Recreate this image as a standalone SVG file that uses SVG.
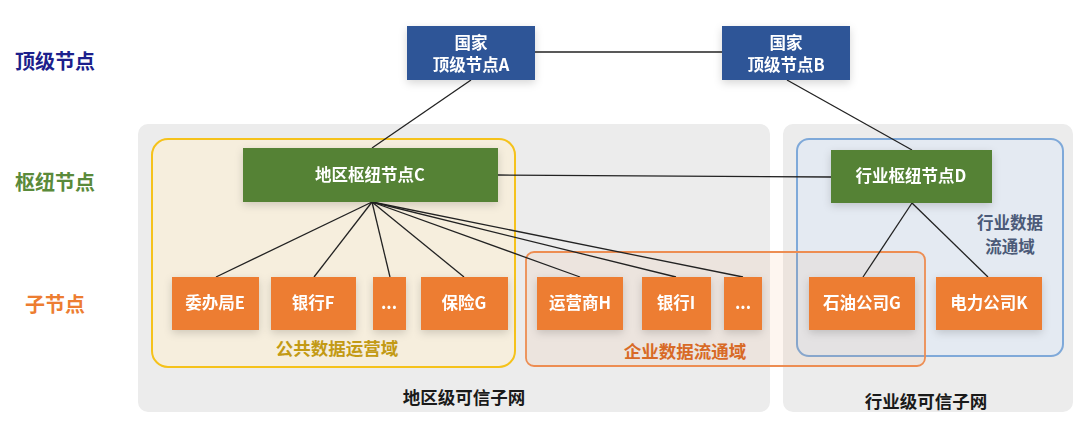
<svg xmlns="http://www.w3.org/2000/svg" width="1080" height="424" viewBox="0 0 1080 424">
<defs>
<filter id="sh" x="-20%" y="-20%" width="140%" height="160%">
<feDropShadow dx="0" dy="3" stdDeviation="4" flood-color="#000" flood-opacity="0.16"/>
</filter>
<style>
text{font-family:"Noto Sans CJK SC","Liberation Sans",sans-serif;font-weight:bold;text-anchor:middle}
.nt{fill:#fff;font-size:16.5px}
.top{fill:#2e5597}
.hub{fill:#548235}
.leaf{fill:#ed7d31}
.lvl{font-size:20px}
.conn line{stroke:#222;stroke-width:1.3}
.panel{fill:#ececec}
</style>
</defs>
<rect width="1080" height="424" fill="#fff"/>

<g id="panels">
<rect class="panel" x="138" y="124" width="632" height="288" rx="10"/>
<rect class="panel" x="783" y="124" width="290" height="288" rx="10"/>
<text x="464" y="404" font-size="17.5" fill="#1a1a1a">地区级可信子网</text>
<text x="926" y="408" font-size="17.5" fill="#1a1a1a">行业级可信子网</text>
</g>

<g id="domains">
<rect x="152" y="139" width="363" height="228" rx="16" fill="#f6eedd" stroke="#f5c21b" stroke-width="2"/>
<text x="337" y="355" font-size="17.5" fill="#c39a14">公共数据运营域</text>
<rect x="797" y="139" width="266" height="217" rx="12" fill="#e4eaf2" stroke="#7fa9d9" stroke-width="2"/>
<text x="1010" y="229" font-size="16.5" fill="#4b5a78">行业数据</text>
<text x="1010" y="253" font-size="16.5" fill="#4b5a78">流通域</text>
<rect x="526" y="252" width="399" height="114" rx="8" fill="#ed7d31" fill-opacity="0.07" stroke="#ed8d52" stroke-width="1.8"/>
<text x="685" y="358" font-size="17.5" fill="#d86a26">企业数据流通域</text>
</g>

<g id="levels">
<text class="lvl" x="55" y="69" fill="#1c1f8c">顶级节点</text>
<text class="lvl" x="55" y="190" fill="#5a8a3a">枢纽节点</text>
<text class="lvl" x="55" y="312" fill="#ed7d31">子节点</text>
</g>

<g id="connectors" class="conn">
<line x1="535" y1="52" x2="722" y2="52"/>
<line x1="471" y1="80" x2="372" y2="148"/>
<line x1="787" y1="80" x2="912" y2="150"/>
<line x1="498" y1="175" x2="831" y2="177"/>
<line x1="372" y1="202" x2="216" y2="277"/>
<line x1="372" y1="202" x2="314" y2="277"/>
<line x1="372" y1="202" x2="390" y2="277"/>
<line x1="372" y1="202" x2="464" y2="277"/>
<line x1="372" y1="202" x2="580" y2="277"/>
<line x1="372" y1="202" x2="676" y2="277"/>
<line x1="372" y1="202" x2="743" y2="277"/>
<line x1="912" y1="203" x2="863" y2="277"/>
<line x1="912" y1="203" x2="988" y2="277"/>
</g>

<g id="nodeA" filter="url(#sh)">
<rect class="top" x="407" y="26" width="128" height="54"/>
<text class="nt" x="471" y="49">国家</text>
<text class="nt" x="471" y="71">顶级节点A</text>
</g>
<g id="nodeB" filter="url(#sh)">
<rect class="top" x="722" y="26" width="128" height="54"/>
<text class="nt" x="786" y="49">国家</text>
<text class="nt" x="786" y="71">顶级节点B</text>
</g>
<g id="nodeC" filter="url(#sh)">
<rect class="hub" x="243" y="148" width="255" height="54"/>
<text class="nt" x="370" y="181">地区枢纽节点C</text>
</g>
<g id="nodeD" filter="url(#sh)">
<rect class="hub" x="831" y="150" width="161" height="53"/>
<text class="nt" x="911" y="182">行业枢纽节点D</text>
</g>
<g id="nodeE" filter="url(#sh)">
<rect class="leaf" x="172" y="277" width="87" height="53"/>
<text class="nt" x="215" y="309">委办局E</text>
</g>
<g id="nodeF" filter="url(#sh)">
<rect class="leaf" x="271" y="277" width="85" height="53"/>
<text class="nt" x="313" y="309">银行F</text>
</g>
<g id="nodeDots1" filter="url(#sh)">
<rect class="leaf" x="373" y="277" width="33" height="53"/>
<text class="nt" x="389" y="309">...</text>
</g>
<g id="nodeG" filter="url(#sh)">
<rect class="leaf" x="421" y="277" width="87" height="53"/>
<text class="nt" x="464" y="309">保险G</text>
</g>
<g id="nodeH" filter="url(#sh)">
<rect class="leaf" x="537" y="277" width="86" height="53"/>
<text class="nt" x="580" y="309">运营商H</text>
</g>
<g id="nodeI" filter="url(#sh)">
<rect class="leaf" x="642" y="277" width="69" height="53"/>
<text class="nt" x="676" y="309">银行I</text>
</g>
<g id="nodeDots2" filter="url(#sh)">
<rect class="leaf" x="724" y="277" width="38" height="53"/>
<text class="nt" x="743" y="309">...</text>
</g>
<g id="nodeOil" filter="url(#sh)">
<rect class="leaf" x="809" y="277" width="106" height="53"/>
<text class="nt" x="862" y="309">石油公司G</text>
</g>
<g id="nodeK" filter="url(#sh)">
<rect class="leaf" x="936" y="277" width="106" height="53"/>
<text class="nt" x="989" y="309">电力公司K</text>
</g>
</svg>
